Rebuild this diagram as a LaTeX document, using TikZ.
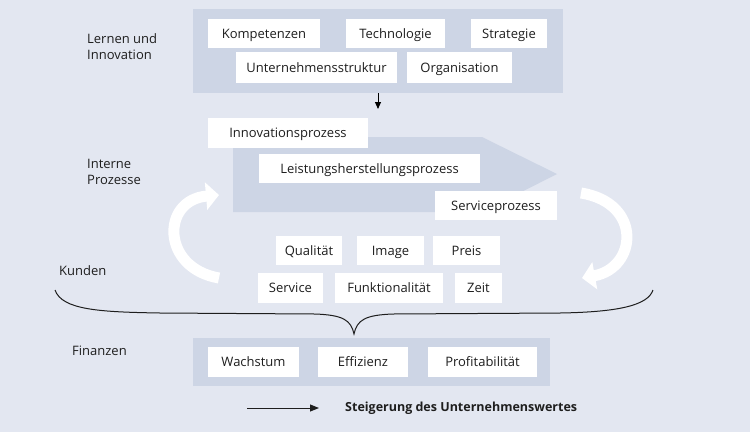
\documentclass[tikz,border=0pt]{standalone}
\usepackage{fontspec}
\setmainfont{Open Sans}
\usetikzlibrary{arrows.meta}
\definecolor{bgc}{RGB}{227,231,241}
\definecolor{panel}{RGB}{205,213,229}
\definecolor{txt}{RGB}{30,30,30}
\tikzset{
  box/.style={fill=white, inner sep=0pt, minimum height=29pt, text height=9pt, text depth=0pt, text=txt, font=\fontsize{13}{15}\selectfont},
  lbl/.style={anchor=west, align=left, inner sep=0pt, text=txt, font=\fontsize{13}{16}\selectfont},
  whitearrow/.style={white, line width=11pt, -{Triangle[length=13pt,width=27pt]}},
}
\begin{document}
\begin{tikzpicture}[x=1pt,y=-1pt]
\fill[bgc] (0,0) rectangle (750,432);
\useasboundingbox (0,0) rectangle (750,432);
% panels
\fill[panel] (193,9) rectangle (563,93);
\fill[panel] (193,338) rectangle (550,386);
\fill[panel] (233,137) -- (482,137) -- (557,174) -- (482,212) -- (233,212) -- cycle;
% left labels
\node[lbl] (l1) at (87,47) {Lernen und\\Innovation};
\node[lbl] (l2) at (87,171.5) {Interne\\Prozesse};
\node[lbl] (l3) at (59,271) {Kunden};
\node[lbl] (l4) at (72,351) {Finanzen};
% top boxes
\node[box, minimum width=112pt] (komp) at (264,33.5) {Kompetenzen};
\node[box, minimum width=99pt] (tech) at (395.5,33.5) {Technologie};
\node[box, minimum width=76pt] (strat) at (509,33.5) {Strategie};
\node[box, minimum width=161pt, minimum height=31pt] (ustr) at (316.5,67.5) {Unternehmensstruktur};
\node[box, minimum width=105pt, minimum height=31pt] (org) at (459.5,67.5) {Organisation};
% process boxes
\node[box, minimum width=160pt, minimum height=30pt] (inno) at (288,133) {Innovationsprozess};
\node[box, minimum width=221pt] (leist) at (369.5,168.5) {Leistungsherstellungsprozess};
\node[box, minimum width=122pt] (servp) at (496,205.5) {Serviceprozess};
% customer boxes
\node[box, minimum width=66pt] (qual) at (309,250.5) {Qualität};
\node[box, minimum width=67pt] (img) at (390.5,250.5) {Image};
\node[box, minimum width=67pt] (preis) at (466.5,250.5) {Preis};
\node[box, minimum width=65pt, minimum height=30pt] (serv) at (290.5,288) {Service};
\node[box, minimum width=108pt, minimum height=30pt] (funk) at (389,288) {Funktionalität};
\node[box, minimum width=47pt, minimum height=30pt] (zeit) at (478.5,288) {Zeit};
% finance boxes
\node[box, minimum width=91pt, minimum height=30pt] (wach) at (253.5,362) {Wachstum};
\node[box, minimum width=90pt, minimum height=30pt] (eff) at (363,362) {Effizienz};
\node[box, minimum width=109pt, minimum height=30pt] (prof) at (482.5,362) {Profitabilität};
% down arrow
\coordinate (da1) at (378,93);
\coordinate (da2) at (378,109);
\draw[line width=1pt, -{Triangle[length=7pt,width=6pt]}] (da1) -- (da2);
% curved white arrows
\draw[whitearrow] (219,278) .. controls (161,268) and (161,200) .. (219,195);
\draw[whitearrow] (581,193) .. controls (643,203) and (637,268) .. (582,278);
% brace
\coordinate (bl) at (55,290);
\coordinate (bm) at (354,334);
\coordinate (br) at (653,290);
\draw[line width=1pt, txt] (bl) .. controls (62,310) and (100,312) .. (160,313)
  -- (315,314) .. controls (343,315) and (351,320) .. (bm)
  .. controls (357,320) and (365,315) .. (393,314)
  -- (560,313) .. controls (620,312) and (648,305) .. (br);
% bottom arrow and legend
\coordinate (ba1) at (247,408);
\coordinate (ba2) at (319,408);
\draw[line width=1pt, txt, -{Triangle[length=9pt,width=7pt]}] (ba1) -- (ba2);
\node[anchor=west, inner sep=0pt, text=txt, font=\fontsize{12.5}{14}\selectfont\bfseries] (leg) at (345,408) {Steigerung des Unternehmenswertes};
\end{tikzpicture}
\end{document}
